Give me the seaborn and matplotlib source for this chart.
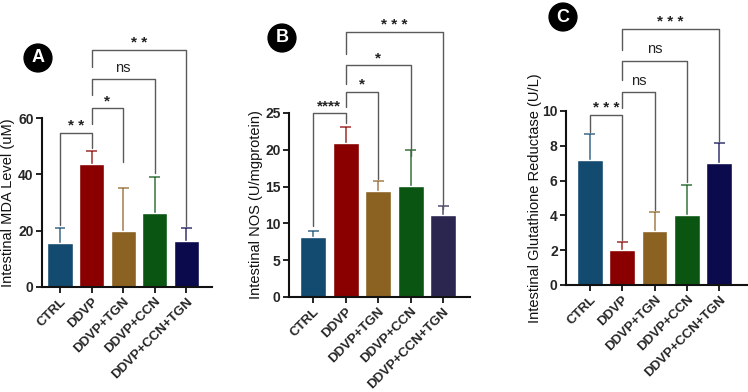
import numpy as np
import pandas as pd
import matplotlib
matplotlib.use("Agg")
import matplotlib.pyplot as plt
import seaborn as sns

groups = ["CTRL", "DDVP", "DDVP+TGN", "DDVP+CCN", "DDVP+CCN+TGN"]

# panel values (mean, SD)
mda_mean = [15.5, 43.5, 20.0, 26.3, 16.3]
mda_sd = [5.5, 4.7, 15.0, 12.8, 4.6]
nos_mean = [8.2, 20.9, 14.4, 15.1, 11.1]
nos_sd = [0.8, 2.2, 1.4, 4.9, 1.3]
gr_mean = [7.2, 2.0, 3.1, 4.05, 7.0]
gr_sd = [1.5, 0.5, 1.1, 1.7, 1.15]

# brackets: (i, j, height, left leg end, right leg end, label)
mda_sig = [(0, 1, 54.7, 22.0, 49.5, "**"), (1, 2, 63.5, 58.0, 44.4, "*"),
           (1, 3, 73.8, 68.0, 40.5, "ns"), (1, 4, 84.1, 78.0, 21.5, "**")]
nos_sig = [(0, 1, 25.0, 9.6, 23.6, "****"), (1, 2, 27.9, 25.8, 16.0, "*"),
           (1, 3, 31.5, 28.9, 19.2, "*"), (1, 4, 36.0, 33.0, 12.0, "***")]
gr_sig = [(0, 1, 9.77, 8.8, 2.6, "***"), (1, 2, 11.1, 10.2, 4.3, "ns"),
          (1, 3, 12.9, 11.8, 5.9, "ns"), (1, 4, 14.7, 13.5, 8.3, "***")]

colors_a = ["#134a6f", "#8a0000", "#8c6223", "#0b5512", "#0a0a4d"]
colors_b = ["#134a6f", "#8a0000", "#8c6223", "#0b5512", "#2b2650"]

sns.set_style("ticks")
plt.rcParams["font.family"] = ["Liberation Sans", "DejaVu Sans"]

W, H = 748, 392
fig = plt.figure(figsize=(W / 100, H / 100), dpi=100)


def make_ax(left, right, y0, ytop_px, yval):
    ax = fig.add_axes([left / W, (H - y0) / H, (right - left) / W, y0 / H])
    top = y0 / (y0 - ytop_px) * yval
    ax.set_ylim(0, top)
    ax.spines["left"].set_bounds(0, yval)
    return ax, top


def draw_panel(ax, top, means, sds, colors, sig, yticks, ylabel, xlim, label_x):
    df = pd.DataFrame({"group": groups, "value": means})
    sns.barplot(data=df, x="group", y="value", hue="group", palette=colors,
                saturation=1, legend=False, width=0.8, errorbar=None, ax=ax, zorder=2)
    x = np.arange(len(groups))
    ups = np.array(means) + np.array(sds)
    for k in range(len(groups)):
        ax.vlines(x[k], means[k], ups[k], color=colors[k], lw=1.2, alpha=0.75, zorder=1)
        ax.hlines(ups[k], x[k] - 0.17, x[k] + 0.17, color=colors[k], lw=1.2,
                  alpha=0.75, zorder=1)
    for i, j, h, l1, l2, lab in sig:
        ax.plot([i, i, j, j], [l1, h, h, l2], color="#5a5a5a", lw=1.0,
                clip_on=False, zorder=3)
        if lab == "ns":
            ax.annotate(lab, ((i + j) / 2, h), xytext=(0, 3), textcoords="offset points",
                        ha="center", va="bottom", fontsize=10.5, color="#222222")
        else:
            ax.annotate(" ".join(lab) if len(lab) < 4 else lab, ((i + j) / 2, h),
                        xytext=(0, 0), textcoords="offset points",
                        ha="center", va="bottom", fontsize=11, fontweight="bold",
                        color="#222222")
    ax.set_xlim(*xlim)
    ax.set_yticks(yticks)
    ax.set_yticklabels([str(t) for t in yticks], fontsize=10, fontweight="bold")
    ax.set_xticks(x)
    ax.set_xticklabels(groups, rotation=45, ha="right", rotation_mode="anchor",
                       fontsize=9.5, fontweight="bold")
    ax.set_xlabel("")
    ax.set_ylabel(ylabel, fontsize=10.5, color="#111111")
    ax.yaxis.set_label_coords(label_x, yticks[-1] / 2 / top)
    ax.tick_params(axis="both", length=4, width=1.3, color="#111111", pad=2)
    for s in ["left", "bottom"]:
        ax.spines[s].set_linewidth(1.5)
        ax.spines[s].set_color("#111111")
    sns.despine(ax=ax)


ax_a, top_a = make_ax(42, 212, 287, 118, 60)
draw_panel(ax_a, top_a, mda_mean, mda_sd, colors_a, mda_sig, [0, 20, 40, 60],
           "Intestinal MDA Level (uM)", (-0.57, 4.81), (15 - 42) / 170)

ax_b, top_b = make_ax(289, 470, 297, 113, 25)
draw_panel(ax_b, top_b, nos_mean, nos_sd, colors_b, nos_sig, [0, 5, 10, 15, 20, 25],
           "Intestinal NOS (U/mgprotein)", (-0.74, 4.83), (263 - 289) / 181)

ax_c, top_c = make_ax(566, 747, 285, 111, 10)
draw_panel(ax_c, top_c, gr_mean, gr_sd, colors_a, gr_sig, [0, 2, 4, 6, 8, 10],
           "Intestinal Glutathione Reductase (U/L)", (-0.74, 4.86), (542 - 566) / 181)

for lab, cx, cy in [("A", 38, 58), ("B", 282, 38), ("C", 563, 17)]:
    fig.text(cx / W, 1 - cy / H, lab, ha="center", va="center", color="white",
             fontsize=13, fontweight="bold",
             bbox=dict(boxstyle="circle,pad=0.3", fc="black", ec="black"))

fig.savefig("out.png", dpi=100, facecolor="white")
